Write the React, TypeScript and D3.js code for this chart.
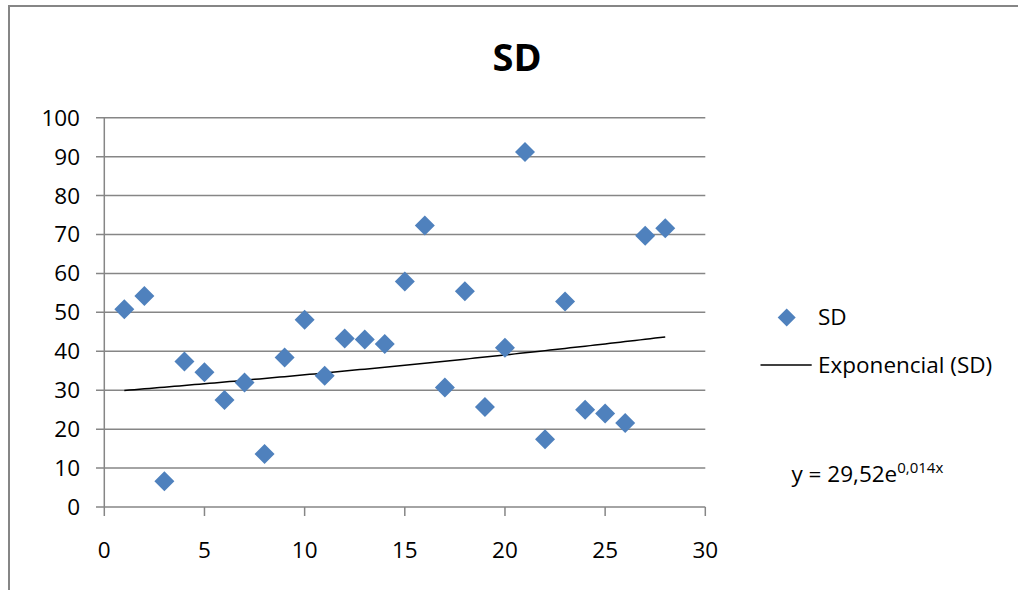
import React from "react";
import * as d3 from "d3";

const xValues = [1, 2, 3, 4, 5, 6, 7, 8, 9, 10, 11, 12, 13, 14, 15, 16, 17, 18, 19, 20, 21, 22, 23, 24, 25, 26, 27, 28];
const sdValues = [50.8, 54.2, 6.6, 37.4, 34.6, 27.5, 32.0, 13.6, 38.4, 48.1, 33.7, 43.3, 43.0, 41.9, 57.9, 72.3, 30.7, 55.4, 25.7, 40.9, 91.2, 17.4, 52.8, 25.0, 24.0, 21.6, 69.7, 71.6];
const xTicks = [0, 5, 10, 15, 20, 25, 30];
const yTicks = [0, 10, 20, 30, 40, 50, 60, 70, 80, 90, 100];
const trendA = 29.52;
const trendB = 0.014;
const title = "SD";
const seriesName = "SD";
const trendName = "Exponencial (SD)";

const W = 1018;
const H = 590;
const FONT = "'Open Sans', 'Noto Sans', sans-serif";
const GRID = "#868686";
const BLUE = "#4F81BD";

export default function App() {
  const x = d3.scaleLinear().domain([0, 30]).range([104.3, 705.3]);
  const y = d3.scaleLinear().domain([0, 100]).range([507, 117.7]);

  const trendPts: [number, number][] = d3.range(1, 28.01, 0.25).map((v) => [v, trendA * Math.exp(trendB * v)]);
  const line = d3.line<[number, number]>().x((d) => x(d[0])).y((d) => y(d[1]));

  const diamond = (cx: number, cy: number, r: number) =>
    `M${cx},${cy - r}L${cx + r},${cy}L${cx},${cy + r}L${cx - r},${cy}Z`;

  return (
    <svg width={W} height={H} style={{ position: "absolute", left: 0, top: 0, background: "#fff" }} fontFamily={FONT}>
      <rect x={0} y={0} width={W} height={H} fill="#fff" />
      {/* chart frame */}
      <rect x={9} y={6} width={1010} height={620} fill="none" stroke={GRID} strokeWidth={2} />
      {/* title */}
      <text x={517} y={71} textAnchor="middle" fontSize={38} fontWeight="bold" fill="#000">{title}</text>
      {/* gridlines */}
      {yTicks.map((t) => (
        <line key={"g" + t} x1={96} x2={x(30)} y1={y(t)} y2={y(t)} stroke={GRID} strokeWidth={1.5} />
      ))}
      {/* y axis */}
      <line x1={x(0)} x2={x(0)} y1={y(100)} y2={y(0)} stroke={GRID} strokeWidth={1.5} />
      {/* x ticks */}
      {xTicks.map((t) => (
        <line key={"xt" + t} x1={x(t)} x2={x(t)} y1={y(0)} y2={y(0) + 9} stroke={GRID} strokeWidth={1.5} />
      ))}
      {yTicks.map((t) => (
        <text key={"yl" + t} x={80} y={y(t) + 8} textAnchor="end" fontSize={22.5} fill="#000">{t}</text>
      ))}
      {xTicks.map((t) => (
        <text key={"xl" + t} x={x(t)} y={558} textAnchor="middle" fontSize={22.5} fill="#000">{t}</text>
      ))}
      {/* trendline */}
      <path d={line(trendPts) || ""} fill="none" stroke="#000" strokeWidth={1.5} />
      {/* points */}
      {xValues.map((xv, i) => (
        <path key={"p" + i} d={diamond(x(xv), y(sdValues[i]), 10)} fill={BLUE} />
      ))}
      {/* legend */}
      <path d={diamond(786.7, 317.5, 9)} fill={BLUE} />
      <text x={818} y={325} fontSize={22.5} fill="#000">{seriesName}</text>
      <line x1={760.5} x2={811.7} y1={365} y2={365} stroke="#000" strokeWidth={1.5} />
      <text x={818} y={373} fontSize={22.5} fill="#000">{trendName}</text>
      {/* equation */}
      <text x={791.5} y={482} fontSize={22.5} fill="#000">
        y = 29,52e
        <tspan fontSize={15} dy={-9}>0,014x</tspan>
      </text>
    </svg>
  );
}
